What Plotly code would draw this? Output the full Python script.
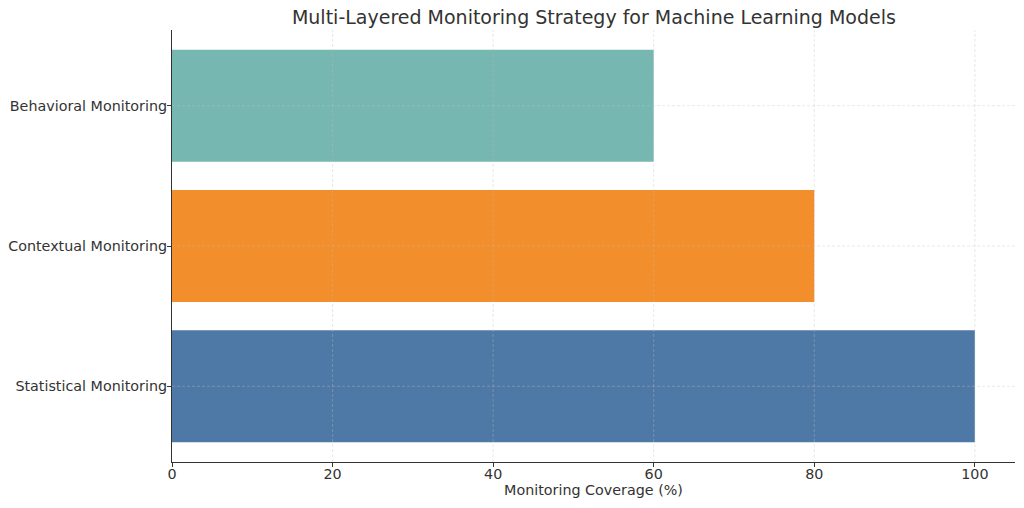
import plotly.graph_objects as go

categories = ["Statistical Monitoring", "Contextual Monitoring", "Behavioral Monitoring"]
coverage = [100, 80, 60]
bar_colors = ["#4e79a7", "#f28e2b", "#76b7b2"]
x_ticks = [0, 20, 40, 60, 80, 100]

fig = go.Figure(go.Bar(
    x=coverage,
    y=categories,
    orientation="h",
    marker=dict(color=bar_colors, line=dict(width=0)),
    width=0.8,
))

# matplotlib draws the dashed grid on top of the bars
grid = dict(color="rgba(190,190,190,0.45)", width=0.8, dash="3px,2px")
shapes = []
for t in x_ticks[1:]:
    shapes.append(dict(type="line", xref="x", yref="paper", x0=t, x1=t, y0=0, y1=1,
                       line=grid, layer="above"))
for c in categories:
    shapes.append(dict(type="line", xref="paper", yref="y", x0=0, x1=1, y0=c, y1=c,
                       line=grid, layer="above"))

fig.update_layout(
    width=1024,
    height=508,
    margin=dict(l=172, r=9, t=30, b=46),
    paper_bgcolor="white",
    plot_bgcolor="white",
    font=dict(family="DejaVu Sans", color="#333333", size=14.3),
    title=dict(text="Multi-Layered Monitoring Strategy for Machine Learning Models",
               x=0.58, xanchor="center", y=0.978, yanchor="top",
               font=dict(size=19, color="#333333")),
    showlegend=False,
    shapes=shapes,
    xaxis=dict(
        range=[0, 105],
        tickvals=x_ticks,
        showgrid=False,
        zeroline=False,
        showline=True,
        linecolor="#333333",
        linewidth=1.2,
        ticks="outside",
        ticklen=4,
        tickcolor="#333333",
        ticklabelstandoff=-5,
        automargin=False,
        title=dict(text="Monitoring Coverage (%)", font=dict(size=14.3), standoff=2),
    ),
    yaxis=dict(
        range=[-0.54, 2.54],
        showgrid=False,
        zeroline=False,
        showline=True,
        linecolor="#333333",
        linewidth=1.2,
        ticks="outside",
        ticklen=4,
        tickcolor="#333333",
        ticklabelstandoff=-3,
        automargin=False,
    ),
)

fig.write_html("out.html", config={"displayModeBar": False},
               post_script="document.body.style.margin='0';")
